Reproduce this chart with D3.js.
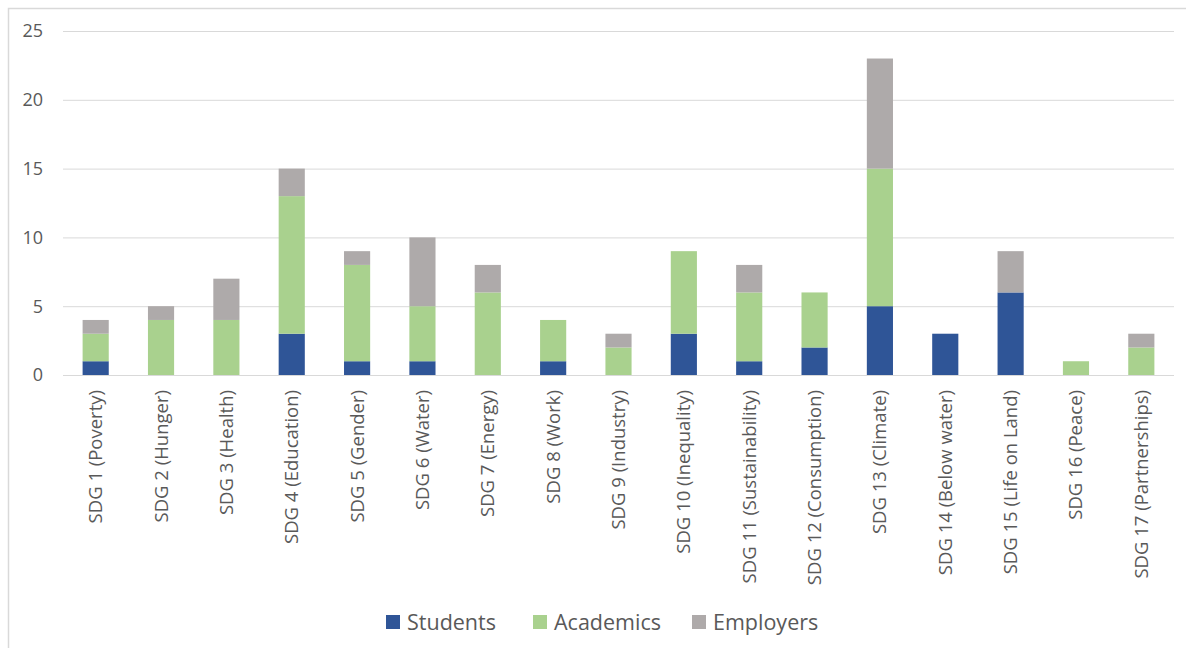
<!DOCTYPE html>
<html>
<head>
<meta charset="utf-8">
<script src="https://cdn.jsdelivr.net/npm/d3@7"></script>
<style>
  body { margin: 0; background: #fff; }
  text { font-family: "Open Sans", "Liberation Sans", sans-serif; fill: #595959; }
</style>
</head>
<body>
<div id="chart"></div>
<script>
let CHART_WIDTH = 1186;
let CHART_HEIGHT = 648;

var categories = ["SDG 1 (Poverty)", "SDG 2 (Hunger)", "SDG 3 (Health)", "SDG 4 (Education)",
	"SDG 5 (Gender)", "SDG 6 (Water)", "SDG 7 (Energy)", "SDG 8 (Work)", "SDG 9 (Industry)",
	"SDG 10 (Inequality)", "SDG 11 (Sustainability)", "SDG 12 (Consumption)", "SDG 13 (Climate)",
	"SDG 14 (Below water)", "SDG 15 (Life on Land)", "SDG 16 (Peace)", "SDG 17 (Partnerships)"];
var students  = [1, 0, 0, 3, 1, 1, 0, 1, 0, 3, 1, 2, 5, 3, 6, 0, 0];
var academics = [2, 4, 4, 10, 7, 4, 6, 3, 2, 6, 5, 4, 10, 0, 0, 1, 2];
var employers = [1, 1, 3, 2, 1, 5, 2, 0, 1, 0, 2, 0, 8, 0, 3, 0, 1];
var seriesNames = ["Students", "Academics", "Employers"];
var yTicks = [0, 5, 10, 15, 20, 25];

var colors = { "Students": "#2F5597", "Academics": "#A9D18E", "Employers": "#AEAAAA" };

// table for d3.stack
var data = categories.map(function (c, i) {
	return { cat: c, Students: students[i], Academics: academics[i], Employers: employers[i] };
});

var margin = { left: 63, right: 12, top: 31, bottom: 273 };

var svg = d3.select("#chart").append("svg")
	.attr("width", CHART_WIDTH)
	.attr("height", CHART_HEIGHT);

// outer chart border (only top and left visible in the picture)
svg.append("path")
	.attr("d", "M8.5," + CHART_HEIGHT + "V8.5H" + CHART_WIDTH)
	.attr("fill", "none")
	.attr("stroke", "#d9d9d9")
	.attr("stroke-width", 1.5);

var x = d3.scaleBand()
	.domain(categories)
	.range([margin.left, CHART_WIDTH - margin.right])
	.paddingInner(0.6)
	.paddingOuter(0.3);

var y = d3.scaleLinear()
	.domain([0, 25])
	.range([CHART_HEIGHT - margin.bottom, margin.top]);

// gridlines
svg.append("g")
	.selectAll("line")
	.data(yTicks)
	.enter().append("line")
	.attr("x1", margin.left)
	.attr("x2", CHART_WIDTH - margin.right)
	.attr("y1", d => y(d) + 0.5)
	.attr("y2", d => y(d) + 0.5)
	.attr("stroke", "#d9d9d9")
	.attr("stroke-width", 1);

// y tick labels
svg.append("g")
	.selectAll("text")
	.data(yTicks)
	.enter().append("text")
	.attr("x", 43)
	.attr("y", d => y(d))
	.attr("dy", "0.35em")
	.attr("text-anchor", "end")
	.style("font-size", "18px")
	.text(d => d);

var stack = d3.stack().keys(seriesNames);
var layers = stack(data);

svg.append("g")
	.selectAll("g")
	.data(layers)
	.enter().append("g")
	.attr("fill", d => colors[d.key])
	.selectAll("rect")
	.data(d => d)
	.enter().append("rect")
	.attr("x", d => x(d.data.cat))
	.attr("width", x.bandwidth())
	.attr("y", d => y(d[1]))
	.attr("height", d => y(d[0]) - y(d[1]));

// x labels, rotated
svg.append("g")
	.selectAll("text")
	.data(categories)
	.enter().append("text")
	.attr("transform", d => "translate(" + (x(d) + x.bandwidth() / 2) + "," + (y(0) + 15) + ") rotate(-90)")
	.attr("text-anchor", "end")
	.attr("dy", "0.35em")
	.style("font-size", "18.5px")
	.text(d => d);

// legend
var legendX = [386, 533, 692];
var legend = svg.append("g")
	.selectAll("g")
	.data(seriesNames)
	.enter().append("g")
	.attr("transform", (d, i) => "translate(" + legendX[i] + ",622)");
legend.append("rect")
	.attr("x", 0)
	.attr("y", -7)
	.attr("width", 14)
	.attr("height", 14)
	.attr("fill", d => colors[d]);
legend.append("text")
	.attr("x", 21)
	.attr("dy", "0.35em")
	.style("font-size", "21.5px")
	.text(d => d);
</script>
</body>
</html>
